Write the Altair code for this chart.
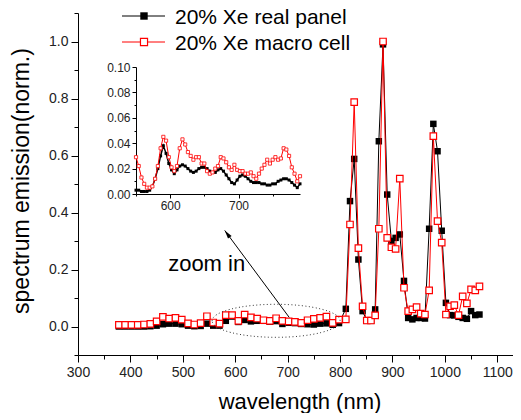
import altair as alt
import pandas as pd

FONT = "Liberation Sans"

# ---------------- main spectrum data ----------------
low_wl = [378, 390, 402, 414, 426, 438, 450, 462, 474, 486, 498, 510, 522, 534, 546, 558, 570, 582,
          594, 606, 618, 630, 642, 654, 666, 678, 690, 702, 714, 726, 738, 750, 762, 774, 786, 798]
low_black = [0.0, 0.0, 0.0, 0.0, 0.0, 0.001, 0.003, 0.008, 0.010, 0.010, 0.008, 0.003, 0.001, 0.002,
             0.010, 0.003, 0.003, 0.020, 0.035, 0.016, 0.023, 0.018, 0.020, 0.020, 0.017, 0.019, 0.009,
             0.013, 0.012, 0.009, 0.008, 0.007, 0.010, 0.011, 0.006, 0.012]
low_red = [0.006, 0.006, 0.006, 0.006, 0.007, 0.009, 0.018, 0.034, 0.028, 0.030, 0.024, 0.011, 0.007,
           0.012, 0.036, 0.014, 0.010, 0.040, 0.040, 0.020, 0.042, 0.032, 0.028, 0.022, 0.020, 0.029,
           0.020, 0.018, 0.016, 0.013, 0.022, 0.027, 0.030, 0.035, 0.013, 0.024]

peak_wl = [811, 819, 827, 835, 843, 851, 859, 867, 874, 882, 890, 898, 906, 914, 922, 930, 938, 946,
           954, 962, 970, 978, 986, 994, 1002, 1010, 1018, 1026, 1034, 1042, 1050, 1058, 1066]
peak_black = [0.062, 0.44, 0.588, 0.235, 0.054, 0.02, 0.02, 0.06, 0.65, 0.99, 0.463, 0.30, 0.311,
              0.323, 0.16, 0.03, 0.025, 0.03, 0.03, 0.028, 0.343, 0.711, 0.615, 0.336, 0.083, 0.04,
              0.039, 0.034, 0.03, 0.027, 0.054, 0.04, 0.042]
peak_red = [0.025, 0.358, 0.787, 0.275, 0.071, 0.021, 0.021, 0.039, 0.343, 1.0, 0.311, 0.278, 0.272,
            0.519, 0.136, 0.054, 0.06, 0.068, 0.045, 0.042, 0.127, 0.668, 0.37, 0.294, 0.042, 0.071,
            0.075, 0.04, 0.106, 0.081, 0.13, 0.127, 0.141]

# ---------------- inset (zoom) data ----------------
inset_wl = [550, 554, 558, 562, 566, 570, 574, 578, 582, 586, 590, 594, 598, 602, 606, 610, 614, 618,
            622, 626, 630, 634, 638, 642, 646, 650, 654, 658, 662, 666, 670, 674, 678, 682, 686, 690,
            694, 698, 702, 706, 710, 714, 718, 722, 726, 730, 734, 738, 742, 746, 750, 754, 758, 762,
            766, 770, 774, 778, 782, 786, 790]
inset_red = [0.029, 0.022, 0.013, 0.008, 0.005, 0.005, 0.006, 0.012, 0.022, 0.036, 0.045, 0.042,
             0.029, 0.021, 0.018, 0.022, 0.036, 0.043, 0.039, 0.033, 0.030, 0.027, 0.029, 0.029,
             0.024, 0.024, 0.018, 0.016, 0.017, 0.020, 0.022, 0.029, 0.028, 0.025, 0.021, 0.019,
             0.023, 0.019, 0.018, 0.018, 0.016, 0.016, 0.017, 0.014, 0.012, 0.016, 0.020, 0.023,
             0.027, 0.024, 0.027, 0.029, 0.027, 0.028, 0.036, 0.035, 0.030, 0.021, 0.016, 0.010, 0.014]
inset_black = [0.003, 0.003, 0.002, 0.002, 0.002, 0.003, 0.006, 0.012, 0.020, 0.030, 0.038, 0.032,
               0.024, 0.019, 0.016, 0.019, 0.022, 0.023, 0.022, 0.020, 0.018, 0.017, 0.018, 0.020,
               0.021, 0.021, 0.020, 0.018, 0.017, 0.017, 0.019, 0.020, 0.018, 0.015, 0.012, 0.009,
               0.008, 0.011, 0.014, 0.015, 0.014, 0.012, 0.010, 0.009, 0.009, 0.009, 0.008, 0.008,
               0.007, 0.007, 0.008, 0.008, 0.010, 0.011, 0.012, 0.012, 0.011, 0.009, 0.007, 0.005, 0.008]

series_names = ["20% Xe real panel", "20% Xe macro cell"]

# annotations (data coordinates)
ellipse_center = [678, 0.02]
arrow_from = [703, 0.032]
arrow_to = [580, 0.337]
arrow_head = [585.7, 0.323]
zoom_text_pos = [472, 0.218]

W, H = 435, 342

main_df = pd.DataFrame({"wl": low_wl + peak_wl, "black": low_black + peak_black, "red": low_red + peak_red})
inset_df = pd.DataFrame({"wl": inset_wl, "black": inset_black, "red": inset_red})

xs_main = alt.Scale(domain=[300, 1130], nice=False, zero=False)
ys_main = alt.Scale(domain=[-0.1, 1.1], nice=False, zero=False)

x_axis_main = alt.Axis(
    values=list(range(300, 1101, 50)),
    labelExpr="datum.value % 100 === 0 ? format(datum.value, 'd') : ''",
    tickSize={"condition": {"test": "datum.value % 100 === 0", "value": 7}, "value": 4},
    labelFontSize=14, labelPadding=3, title=None, grid=False, labelFont=FONT, labelFlush=False,
    domainColor="black", tickColor="black", labelColor="#222", orient="bottom")
y_vals = [round(-0.1 + 0.1 * i, 1) for i in range(13)]
y_axis_main = alt.Axis(
    values=y_vals,
    labelExpr="round(datum.value*10) % 2 === 0 ? format(datum.value, '.1f') : ''",
    tickSize={"condition": {"test": "round(datum.value*10) % 2 === 0", "value": 7}, "value": 4},
    labelFontSize=14, labelPadding=3, title=None, grid=False, labelFont=FONT, labelFlush=False,
    domainColor="black", tickColor="black", labelColor="#222", orient="left")

X = alt.X("wl:Q", scale=xs_main, axis=x_axis_main)
Yb = alt.Y("black:Q", scale=ys_main, axis=y_axis_main)
Yr = alt.Y("red:Q", scale=ys_main, axis=y_axis_main)
Xa = lambda f: alt.X(f, scale=xs_main, axis=x_axis_main)
Ya = lambda f: alt.Y(f, scale=ys_main, axis=y_axis_main)

base = alt.Chart(main_df)
ell_df = pd.DataFrame({"x": [ellipse_center[0]], "y": [ellipse_center[1]]})
arr_df = pd.DataFrame({"x": [arrow_from[0]], "y": [arrow_from[1]], "x2": [arrow_to[0]], "y2": [arrow_to[1]]})
head_df = pd.DataFrame({"x": [arrow_head[0]], "y": [arrow_head[1]]})
ztxt_df = pd.DataFrame({"x": [zoom_text_pos[0]], "y": [zoom_text_pos[1]], "t": ["zoom in"]})

ellipse = alt.Chart(ell_df).mark_point(
    shape="M -1 0 A 1 0.258 0 1 1 1 0 A 1 0.258 0 1 1 -1 0 Z",
    size=16384, filled=False, stroke="#333", strokeWidth=1, strokeDash=[1, 2.5], opacity=1
).encode(x=Xa("x:Q"), y=Ya("y:Q"))
arrow = alt.Chart(arr_df).mark_rule(color="black", strokeWidth=1).encode(
    x=Xa("x:Q"), y=Ya("y:Q"), x2="x2:Q", y2="y2:Q")
head = alt.Chart(head_df).mark_point(
    shape="M 0 -1 L 0.45 0.7 L -0.45 0.7 Z", size=100, filled=True, color="black", opacity=1,
    angle=323.5).encode(x=Xa("x:Q"), y=Ya("y:Q"))
ztext = alt.Chart(ztxt_df).mark_text(align="left", baseline="middle", fontSize=22, font=FONT,
                                     color="black").encode(x=Xa("x:Q"), y=Ya("y:Q"), text="t:N")

main_all = alt.layer(
    base.mark_line(color="black", strokeWidth=1).encode(x=X, y=Yb),
    base.mark_square(color="black", size=42, opacity=1).encode(x=X, y=Yb),
    base.mark_line(color="#ff0000", strokeWidth=1).encode(x=X, y=Yr),
    base.mark_square(fill="white", stroke="#ff0000", strokeWidth=1.2, size=42, opacity=1).encode(x=X, y=Yr),
    ellipse, arrow, head, ztext,
)

# ---------------- inset ----------------
xs_in = alt.Scale(domain=[550, 790], range=[58, 222], nice=False, zero=False)
ys_in = alt.Scale(domain=[0, 0.10], range=[181, 54], nice=False, zero=False)
x_axis_in = alt.Axis(
    values=[550, 600, 650, 700, 750],
    labelExpr="datum.value % 100 === 0 ? datum.label : ''",
    tickSize={"condition": {"test": "datum.value % 100 === 0", "value": 4}, "value": 2},
    labelFontSize=12, labelPadding=2, title=None, grid=False, labelFont=FONT, labelFlush=False,
    domainColor="black", tickColor="black", labelColor="#222", orient="bottom", offset=-(H - 181))
yin_vals = [round(0.01 * i, 2) for i in range(11)]
y_axis_in = alt.Axis(
    values=yin_vals,
    labelExpr="round(datum.value*100) % 2 === 0 ? format(datum.value, '.2f') : ''",
    tickSize={"condition": {"test": "round(datum.value*100) % 2 === 0", "value": 4}, "value": 2},
    labelFontSize=12, labelPadding=2, title=None, grid=False, labelFont=FONT, labelFlush=False,
    domainColor="black", tickColor="black", labelColor="#222", orient="left", offset=-58)
Xi = alt.X("wl:Q", scale=xs_in, axis=x_axis_in)
Yib = alt.Y("black:Q", scale=ys_in, axis=y_axis_in)
Yir = alt.Y("red:Q", scale=ys_in, axis=y_axis_in)
ibase = alt.Chart(inset_df)
inset = alt.layer(
    ibase.mark_line(color="black", strokeWidth=1.5).encode(x=Xi, y=Yib),
    ibase.mark_square(color="black", size=9, opacity=1).encode(x=Xi, y=Yib),
    ibase.mark_line(color="#ff0000", strokeWidth=1).encode(x=Xi, y=Yir),
    ibase.mark_square(fill="white", stroke="#ff0000", strokeWidth=0.8, size=10, opacity=1).encode(x=Xi, y=Yir),
)

# ---------------- legend + titles (pixel layout) ----------------
leg_layers = []
for i, (name, col) in enumerate(zip(series_names, ["black", "#ff0000"])):
    ldf = pd.DataFrame({"label": [name]})
    yy = 3 + 26 * i
    lc = alt.Chart(ldf)
    leg_layers.append(lc.mark_rule(color=col, strokeWidth=1).encode(
        x=alt.value(44), x2=alt.value(87), y=alt.value(yy)))
    if i == 0:
        leg_layers.append(lc.mark_square(color="black", size=55, opacity=1).encode(
            x=alt.value(66), y=alt.value(yy)))
    else:
        leg_layers.append(lc.mark_square(fill="white", stroke="#ff0000", strokeWidth=1.2, size=50,
                                         opacity=1).encode(x=alt.value(66), y=alt.value(yy)))
    leg_layers.append(lc.mark_text(align="left", baseline="middle", fontSize=21, font=FONT,
                                   color="black").encode(x=alt.value(97), y=alt.value(yy + 1.5),
                                                         text="label:N"))

title_df = pd.DataFrame({"xt": ["wavelength (nm)"], "yt": ["spectrum emission(norm.)"]})
tc = alt.Chart(title_df)
xtitle = tc.mark_text(align="center", baseline="middle", fontSize=22, font=FONT, color="black").encode(
    x=alt.value(222), y=alt.value(389), text="xt:N")
ytitle = tc.mark_text(align="center", baseline="middle", fontSize=23, font=FONT, color="black",
                      angle=270).encode(x=alt.value(-56), y=alt.value(168), text="yt:N")

chart = alt.layer(main_all, inset, *leg_layers, xtitle, ytitle).resolve_scale(
    x="independent", y="independent"
).properties(
    width=W, height=H, autosize="none",
    padding={"left": 70, "top": 5, "right": 0, "bottom": 58},
).configure(font=FONT).configure_view(stroke=None)

chart.save("out.html", embed_options={"renderer": "svg", "actions": False})
